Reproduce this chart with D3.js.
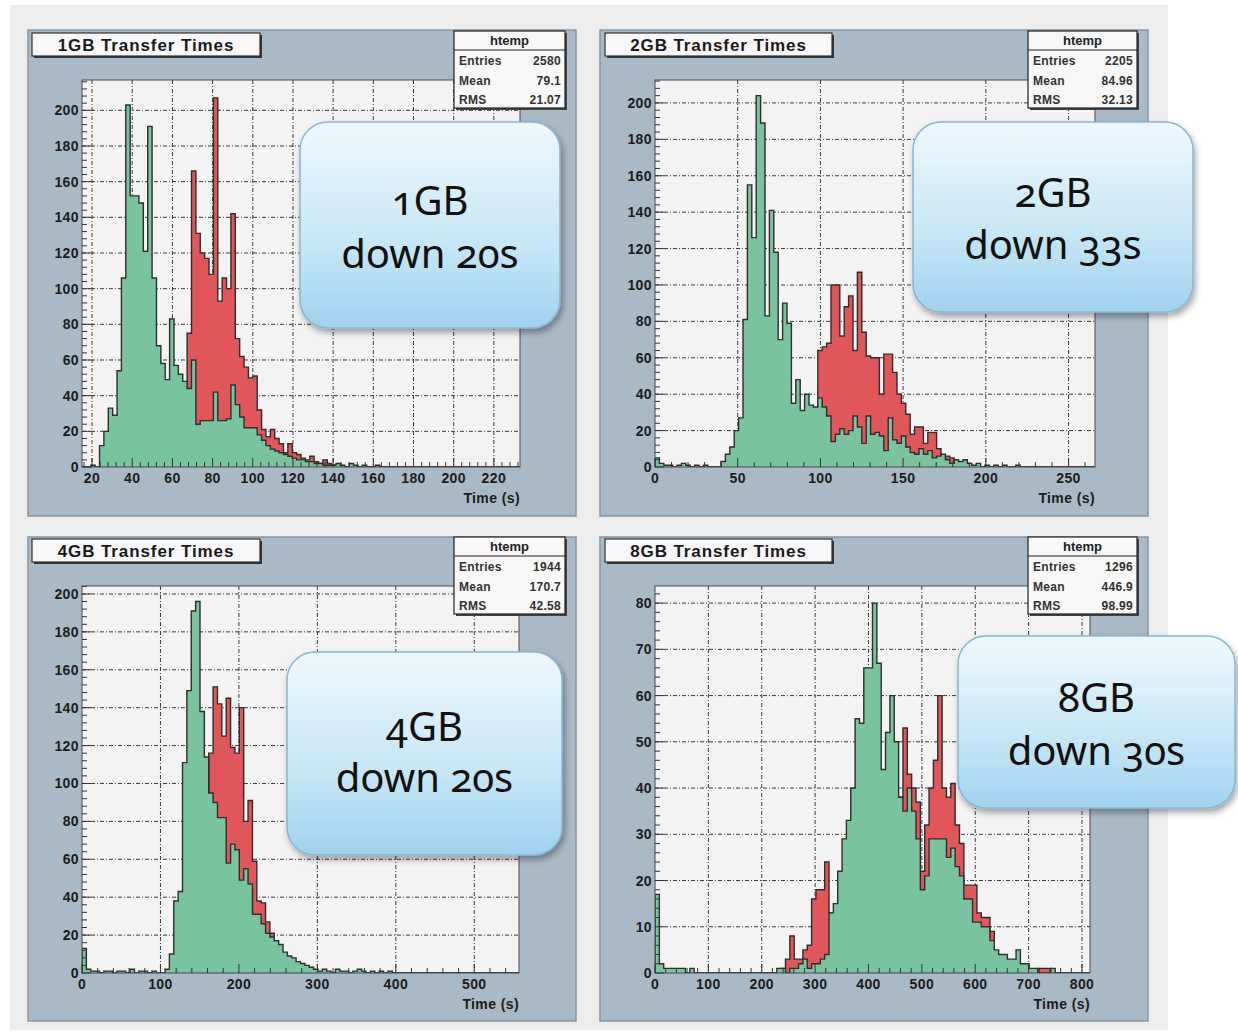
<!DOCTYPE html>
<html>
<head>
<meta charset="utf-8">
<script src="https://cdn.jsdelivr.net/npm/d3@7"></script>
<style>
  body { margin: 0; background: #fff; }
  text { font-family: "Liberation Sans", Arial, sans-serif; }
  .tick-label { font-size: 14px; font-weight: bold; fill: #1c1c1c; letter-spacing: 0.4px; }
  .axis-title { font-size: 14px; font-weight: bold; fill: #1c1c1c; letter-spacing: 0.4px; }
  .title-text { font-size: 17px; font-weight: bold; fill: #1a1a1a; letter-spacing: 0.9px; }
  .stat-text { font-size: 12px; font-weight: bold; fill: #333; letter-spacing: 0.3px; }
  .stat-head { font-size: 13px; font-weight: bold; fill: #222; }
  .bubble-text { font-family: "Noto Sans", "Open Sans", sans-serif; font-size: 40px; fill: #111;
                 font-variant-numeric: oldstyle-nums; font-feature-settings: "onum" 1; }
</style>
</head>
<body>
<svg id="chart" width="1238" height="1035"></svg>
<script>
// ---- data ----
const titles = ["1GB Transfer Times", "2GB Transfer Times", "4GB Transfer Times", "8GB Transfer Times"];
const statEntries = ["2580", "2205", "1944", "1296"];
const statMean = ["79.1", "84.96", "170.7", "446.9"];
const statRms = ["21.07", "32.13", "42.58", "98.99"];
const bubbleLines = [["1GB", "down 20s"], ["2GB", "down 33s"], ["4GB", "down 20s"], ["8GB", "down 30s"]];

const xDomains = [[15, 233], [0, 266], [0, 557], [0, 815]];
const yDomains = [[0, 217], [0, 212.6], [0, 204.2], [0, 83.7]];
const xTicks = [
  [20, 40, 60, 80, 100, 120, 140, 160, 180, 200, 220],
  [0, 50, 100, 150, 200, 250],
  [0, 100, 200, 300, 400, 500],
  [0, 100, 200, 300, 400, 500, 600, 700, 800]
];
const yTicks = [
  [0, 20, 40, 60, 80, 100, 120, 140, 160, 180, 200],
  [0, 20, 40, 60, 80, 100, 120, 140, 160, 180, 200],
  [0, 20, 40, 60, 80, 100, 120, 140, 160, 180, 200],
  [0, 10, 20, 30, 40, 50, 60, 70, 80]
];

// 100 bins per histogram; green = after, red = before
const green1 = [
  0, 0, 1, 0, 12, 20, 33, 29, 54, 106,
  203, 152, 152, 148, 121, 191, 106, 68, 58, 49,
  83, 57, 52, 48, 44, 60, 24, 26, 26, 26,
  42, 26, 26, 27, 46, 35, 28, 22, 22, 22,
  18, 15, 12, 10, 9, 8, 7, 6, 5, 4,
  4, 3, 3, 2, 2, 1, 1, 1, 2, 1,
  0, 2, 1, 0, 1, 0, 0, 1, 0, 0,
  0, 0, 0, 0, 0, 0, 0, 0, 0, 0,
  0, 0, 0, 0, 0, 0, 0, 0, 0, 0,
  0, 0, 0, 0, 0, 0, 0, 0, 0, 0
];
const red1 = [
  0, 0, 0, 0, 0, 0, 0, 0, 0, 0,
  0, 0, 0, 0, 0, 0, 0, 0, 0, 0,
  0, 0, 0, 0, 75, 166, 131, 120, 117, 108,
  207, 93, 106, 100, 142, 72, 62, 56, 50, 51,
  32, 21, 17, 21, 16, 13, 8, 13, 8, 7,
  5, 4, 6, 3, 2, 4, 2, 1, 0, 0,
  0, 0, 0, 0, 0, 0, 0, 0, 0, 0,
  0, 0, 0, 0, 0, 0, 0, 0, 0, 0,
  0, 0, 0, 0, 0, 0, 0, 0, 0, 0,
  0, 0, 0, 0, 0, 0, 0, 0, 0, 0
];
const green2 = [
  5, 2, 1, 1, 0, 1, 2, 1, 0, 1,
  0, 1, 0, 0, 0, 3, 7, 11, 20, 27,
  81, 155, 126, 204, 189, 83, 141, 118, 70, 90,
  79, 35, 48, 31, 40, 34, 33, 38, 33, 28,
  14, 18, 21, 18, 20, 28, 22, 13, 28, 18,
  19, 17, 9, 27, 15, 13, 17, 11, 8, 7,
  10, 7, 9, 5, 6, 7, 4, 2, 4, 3,
  4, 2, 1, 2, 0, 1, 0, 1, 0, 1,
  0, 0, 1, 0, 0, 0, 0, 0, 0, 0,
  0, 0, 0, 0, 0, 0, 0, 0, 0, 0
];
const red2 = [
  0, 0, 0, 0, 0, 0, 0, 0, 0, 0,
  0, 0, 0, 0, 0, 0, 0, 0, 0, 0,
  0, 0, 0, 0, 0, 0, 0, 0, 0, 0,
  0, 0, 0, 0, 0, 0, 0, 64, 66, 68,
  100, 100, 72, 88, 94, 64, 107, 74, 61, 60,
  60, 40, 62, 62, 52, 40, 35, 29, 18, 22,
  22, 13, 19, 19, 10, 6, 6, 5, 3, 2,
  0, 0, 0, 0, 0, 0, 0, 0, 0, 0,
  0, 0, 0, 0, 0, 0, 0, 0, 0, 0,
  0, 0, 0, 0, 0, 0, 0, 0, 0, 0
];
const green3 = [
  13, 2, 1, 1, 0, 1, 1, 0, 1, 1,
  0, 2, 0, 1, 1, 0, 1, 0, 0, 2,
  10, 38, 43, 111, 149, 191, 196, 138, 114, 95,
  90, 82, 82, 58, 68, 65, 49, 55, 47, 31,
  31, 26, 21, 19, 17, 15, 11, 9, 8, 6,
  5, 4, 3, 2, 1, 2, 1, 0, 2, 1,
  1, 0, 1, 2, 1, 0, 1, 0, 1, 0,
  1, 0, 0, 0, 0, 0, 0, 0, 0, 0,
  0, 0, 0, 0, 0, 0, 0, 0, 0, 0,
  0, 0, 0, 0, 0, 0, 0, 0, 0, 0
];
const red3 = [
  0, 0, 0, 0, 0, 0, 0, 0, 0, 0,
  0, 0, 0, 0, 0, 0, 0, 0, 0, 0,
  0, 0, 0, 0, 0, 0, 0, 0, 0, 116,
  151, 142, 125, 145, 119, 116, 140, 80, 91, 59,
  38, 37, 27, 21, 0, 0, 0, 0, 0, 0,
  0, 0, 0, 0, 0, 0, 0, 0, 0, 0,
  0, 0, 0, 0, 0, 0, 0, 0, 0, 0,
  0, 0, 0, 0, 0, 0, 0, 0, 0, 0,
  0, 0, 0, 0, 0, 0, 0, 0, 0, 0,
  0, 0, 0, 0, 0, 0, 0, 0, 0, 0
];
const green4 = [
  17, 2, 1, 1, 1, 1, 1, 0, 1, 0,
  0, 0, 0, 0, 0, 0, 0, 0, 0, 0,
  0, 0, 0, 0, 0, 0, 0, 0, 1, 1,
  0, 1, 1, 2, 3, 1, 2, 2, 3, 4,
  13, 15, 22, 29, 33, 40, 55, 54, 66, 66,
  80, 67, 44, 52, 60, 50, 38, 35, 40, 35,
  29, 18, 21, 29, 29, 29, 29, 25, 27, 23,
  21, 16, 16, 11, 11, 10, 10, 7, 5, 4,
  4, 3, 3, 5, 2, 2, 1, 1, 0, 0,
  0, 1, 0, 0, 0, 0, 0, 0, 0, 0
];
const red4 = [
  0, 0, 0, 0, 0, 0, 0, 0, 0, 0,
  0, 0, 0, 0, 0, 0, 0, 0, 0, 0,
  0, 0, 0, 0, 0, 0, 0, 0, 0, 1,
  3, 8, 3, 3, 5, 6, 16, 18, 18, 24,
  13, 0, 0, 0, 0, 0, 0, 0, 0, 0,
  0, 0, 0, 0, 0, 0, 38, 53, 43, 40,
  37, 22, 32, 40, 46, 60, 40, 38, 41, 32,
  28, 19, 19, 19, 13, 12, 12, 9, 0, 0,
  0, 0, 0, 0, 0, 0, 0, 0, 1, 1,
  1, 0, 0, 0, 0, 0, 0, 0, 0, 0
];
const greens = [green1, green2, green3, green4];
const reds = [red1, red2, red3, red4];

// ---- layout (pixels) ----
const layout = [
  { frame: [28, 30, 548, 486], plot: [82, 80, 520, 467], title: [32, 33, 228, 23], stats: [454, 31, 111, 77],
    bubble: [300, 122, 260, 206], base: [215, 268] },
  { frame: [600, 30, 548, 486], plot: [655, 80, 1095, 467], title: [605, 33, 227, 23], stats: [1028, 31, 109, 77],
    bubble: [913, 122, 280, 190], base: [207, 259] },
  { frame: [28, 537, 548, 484], plot: [82, 586, 519, 973], title: [32, 539, 228, 23], stats: [454, 537, 111, 77],
    bubble: [287, 652, 275, 203], base: [741, 792] },
  { frame: [600, 537, 548, 484], plot: [655, 586, 1090, 973], title: [605, 539, 227, 23], stats: [1028, 537, 109, 77],
    bubble: [958, 636, 277, 172], base: [712, 765] }
];

const COLOR = {
  bg: "#ededed", frame: "#aab9c6", plot: "#f3f3f3", green: "#79c49f", red: "#e05659", line: "#2e2e2e"
};

const svg = d3.select("#chart");
const defs = svg.append("defs");

const grad = defs.append("linearGradient").attr("id", "bubbleGrad")
  .attr("x1", 0).attr("y1", 0).attr("x2", 0).attr("y2", 1);
grad.append("stop").attr("offset", "0%").attr("stop-color", "#eef8fd");
grad.append("stop").attr("offset", "55%").attr("stop-color", "#c9e8f6");
grad.append("stop").attr("offset", "100%").attr("stop-color", "#9fd3ee");

const shadow = defs.append("filter").attr("id", "shadow")
  .attr("x", "-10%").attr("y", "-10%").attr("width", "130%").attr("height", "130%");
shadow.append("feDropShadow").attr("dx", 2).attr("dy", 4).attr("stdDeviation", 3)
  .attr("flood-color", "#000").attr("flood-opacity", 0.35);

svg.append("rect").attr("x", 10).attr("y", 5).attr("width", 1158).attr("height", 1025)
  .attr("fill", COLOR.bg);

function drawPanel(k) {
  const L = layout[k];
  const [px0, py0, px1, py1] = L.plot;
  const g = svg.append("g").attr("class", "panel");

  // pad frame
  g.append("rect").attr("x", L.frame[0]).attr("y", L.frame[1])
    .attr("width", L.frame[2]).attr("height", L.frame[3])
    .attr("fill", COLOR.frame).attr("stroke", "#8796a3").attr("stroke-width", 1.5);

  const x = d3.scaleLinear().domain(xDomains[k]).range([px0, px1]);
  const y = d3.scaleLinear().domain(yDomains[k]).range([py1, py0]);

  g.append("rect").attr("x", px0).attr("y", py0).attr("width", px1 - px0).attr("height", py1 - py0)
    .attr("fill", COLOR.plot);

  // grid
  const dash = "4,2,1,2";
  g.selectAll(".gx").data(xTicks[k].filter(d => x(d) > px0 + 1)).enter().append("line")
    .attr("x1", d => x(d)).attr("x2", d => x(d)).attr("y1", py0).attr("y2", py1)
    .attr("stroke", "#3a3a3a").attr("stroke-width", 1).attr("stroke-dasharray", dash);
  g.selectAll(".gy").data(yTicks[k].filter(d => d > 0)).enter().append("line")
    .attr("x1", px0).attr("x2", px1).attr("y1", d => y(d)).attr("y2", d => y(d))
    .attr("stroke", "#3a3a3a").attr("stroke-width", 1).attr("stroke-dasharray", dash);

  // histograms
  const clipId = "clip" + k;
  defs.append("clipPath").attr("id", clipId).append("rect")
    .attr("x", px0).attr("y", py0).attr("width", px1 - px0).attr("height", py1 - py0);
  const hg = g.append("g").attr("clip-path", "url(#" + clipId + ")");
  const [xmin, xmax] = xDomains[k];
  const bw = (xmax - xmin) / 100;

  function binPoints(vals) {
    const pts = [{ t: xmin, v: 0 }];
    vals.forEach((v, i) => pts.push({ t: xmin + i * bw, v: v }));
    pts.push({ t: xmax, v: 0 });
    return pts;
  }
  const area = d3.area().curve(d3.curveStepAfter)
    .x(d => x(d.t)).y0(y(0)).y1(d => y(d.v));
  const line = d3.line().curve(d3.curveStepAfter)
    .x(d => x(d.t)).y(d => y(d.v));

  [[reds[k], COLOR.red], [greens[k], COLOR.green]].forEach(([vals, col]) => {
    const pts = binPoints(vals);
    hg.append("path").datum(pts).attr("d", area).attr("fill", col);
    hg.append("path").datum(pts).attr("d", line).attr("fill", "none")
      .attr("stroke", COLOR.line).attr("stroke-width", 1.4);
  });

  // plot border
  g.append("rect").attr("x", px0).attr("y", py0).attr("width", px1 - px0).attr("height", py1 - py0)
    .attr("fill", "none").attr("stroke", "#4a4a4a").attr("stroke-width", 1);

  // ticks (inward, ROOT style)
  const xt = xTicks[k], yt = yTicks[k];
  const xStep = xt[1] - xt[0], yStep = yt[1] - yt[0];
  const xMinor = d3.range(Math.ceil(xmin / (xStep / 5)) * (xStep / 5), xmax, xStep / 5);
  const yMinor = d3.range(0, yDomains[k][1], yStep / 5);
  g.selectAll(".mx").data(xMinor).enter().append("line")
    .attr("x1", d => x(d)).attr("x2", d => x(d))
    .attr("y1", py1).attr("y2", d => py1 - (Math.abs(d / xStep - Math.round(d / xStep)) < 1e-6 ? 9 : 5))
    .attr("stroke", "#333").attr("stroke-width", 1);
  g.selectAll(".my").data(yMinor).enter().append("line")
    .attr("y1", d => y(d)).attr("y2", d => y(d))
    .attr("x1", px0).attr("x2", d => px0 + (Math.abs(d / yStep - Math.round(d / yStep)) < 1e-6 ? 9 : 5))
    .attr("stroke", "#333").attr("stroke-width", 1);

  // tick labels
  g.selectAll(".xl").data(xt).enter().append("text").attr("class", "tick-label")
    .attr("x", d => x(d)).attr("y", py1 + 16).attr("text-anchor", "middle").text(d => d);
  g.selectAll(".yl").data(yt).enter().append("text").attr("class", "tick-label")
    .attr("x", px0 - 3).attr("y", d => y(d) + 5).attr("text-anchor", "end").text(d => d);
  g.append("text").attr("class", "axis-title").attr("x", px1).attr("y", py1 + 36)
    .attr("text-anchor", "end").text("Time (s)");

  // title box
  const T = L.title;
  g.append("rect").attr("x", T[0] + 2).attr("y", T[1] + 2).attr("width", T[2]).attr("height", T[3]).attr("fill", "#333");
  g.append("rect").attr("x", T[0]).attr("y", T[1]).attr("width", T[2]).attr("height", T[3])
    .attr("fill", "#f7f7f7").attr("stroke", "#333").attr("stroke-width", 1.2);
  g.append("text").attr("class", "title-text").attr("x", T[0] + T[2] / 2).attr("y", T[1] + T[3] / 2 + 6)
    .attr("text-anchor", "middle").text(titles[k]);

  // stats box
  const S = L.stats;
  g.append("rect").attr("x", S[0] + 2).attr("y", S[1] + 2).attr("width", S[2]).attr("height", S[3]).attr("fill", "#444");
  g.append("rect").attr("x", S[0]).attr("y", S[1]).attr("width", S[2]).attr("height", S[3])
    .attr("fill", "#f7f7f7").attr("stroke", "#222").attr("stroke-width", 1.2);
  g.append("line").attr("x1", S[0]).attr("x2", S[0] + S[2]).attr("y1", S[1] + 19).attr("y2", S[1] + 19)
    .attr("stroke", "#222").attr("stroke-width", 1.2);
  g.append("text").attr("class", "stat-head").attr("x", S[0] + S[2] / 2).attr("y", S[1] + 14)
    .attr("text-anchor", "middle").text("htemp");
  const rows = [["Entries", statEntries[k]], ["Mean", statMean[k]], ["RMS", statRms[k]]];
  rows.forEach((r, i) => {
    const ry = S[1] + 34 + i * 19.5;
    g.append("text").attr("class", "stat-text").attr("x", S[0] + 5).attr("y", ry).text(r[0]);
    g.append("text").attr("class", "stat-text").attr("x", S[0] + S[2] - 4).attr("y", ry)
      .attr("text-anchor", "end").text(r[1]);
  });

  // callout bubble
  const B = L.bubble;
  g.append("rect").attr("x", B[0]).attr("y", B[1]).attr("width", B[2]).attr("height", B[3])
    .attr("rx", 28).attr("ry", 28).attr("fill", "url(#bubbleGrad)")
    .attr("stroke", "#86b6d2").attr("stroke-width", 1.5).attr("filter", "url(#shadow)");
  bubbleLines[k].forEach((s, i) => {
    g.append("text").attr("class", "bubble-text").attr("x", B[0] + B[2] / 2).attr("y", L.base[i])
      .attr("text-anchor", "middle").text(s);
  });
}

[0, 1, 2, 3].forEach(drawPanel);
</script>
</body>
</html>
